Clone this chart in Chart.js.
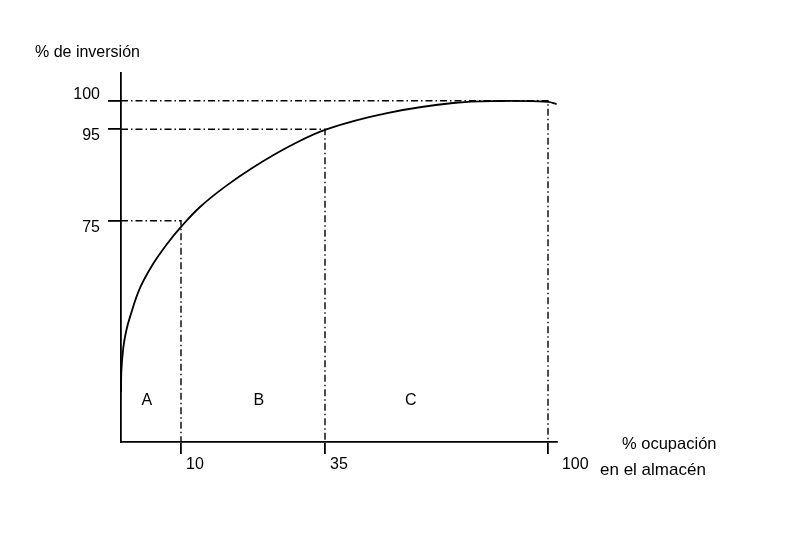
<!DOCTYPE html>
<html lang="es">
<head>
<meta charset="utf-8">
<title>Curva ABC</title>
<script src="https://cdn.jsdelivr.net/npm/chart.js@4.4.1/dist/chart.umd.min.js"></script>
<style>
  html, body { margin: 0; padding: 0; background: #fff; }
</style>
</head>
<body>
<canvas id="abcChart" width="800" height="536"></canvas>
<script>
// % ocupación en el almacén (x) vs % de inversión (y)
const curveX = [0, 0.05, 0.38, 0.83, 1.5, 3.17, 5.33, 7.67, 10, 13.3, 17.6, 22.3, 28.9, 35.6, 53.1, 72.3, 86, 100, 102.6];
const curveY = [16.9, 23.7, 31.9, 37.3, 42.4, 52.2, 60.3, 67.1, 72.9, 78, 82.4, 86.5, 91.35, 95.05, 97.85, 99.6, 99.95, 99.8, 99.4];

// zone cut points (dash-dot guides)
const cutX = [10, 35, 100];
const cutY = [75, 95, 100];

// tick labels
const xTicks = [10, 35, 100];
const yTicks = [75, 95, 100];

// zone letters
const zoneNames = ["A", "B", "C"];
const zoneX = [4.3, 23.5, 60];
const zoneY = 14;

const FONT = "'Liberation Sans', Arial, sans-serif";

// the drawing is schematic: axes are stretched piecewise between the marked values
// [value, fraction of axis length]
const scaleKnots = {
  x: [[0, 0], [10, 0.1376], [35, 0.4679], [100, 0.9794], [102.7, 1]],
  y: [[0, 0], [75, 0.5997], [95, 0.8474], [100, 0.9249], [104.85, 1]]
};

function knotMap(knots, from, to, v) {
  for (let i = 1; i < knots.length; i++) {
    const a = knots[i - 1], b = knots[i];
    if (v <= b[from] || i === knots.length - 1) {
      const t = (v - a[from]) / (b[from] - a[from]);
      return a[to] + t * (b[to] - a[to]);
    }
  }
}

class PiecewiseScale extends Chart.LinearScale {
  getPixelForValue(value) {
    if (value === null || value === undefined || isNaN(value)) return NaN;
    return this.getPixelForDecimal(knotMap(scaleKnots[this.id], 0, 1, value));
  }
  getValueForPixel(pixel) {
    return knotMap(scaleKnots[this.id], 1, 0, this.getDecimalForPixel(pixel));
  }
}
PiecewiseScale.id = "piecewise";
PiecewiseScale.defaults = Chart.LinearScale.defaults;
Chart.register(PiecewiseScale);

// free texts: axis captions and zone letters
const textPlugin = {
  id: "abcText",
  afterDraw(chart) {
    const { ctx, scales: { x, y } } = chart;
    ctx.save();
    ctx.fillStyle = "#000";
    ctx.font = "16px " + FONT;
    ctx.textAlign = "left";
    ctx.textBaseline = "alphabetic";
    ctx.fillText("% de inversión", 35, 57);
    ctx.font = "16.5px " + FONT;
    ctx.fillText("% ocupación", 622, 449);
    ctx.font = "17px " + FONT;
    ctx.fillText("en el almacén", 600, 475);

    ctx.font = "16px " + FONT;
    ctx.textAlign = "center";
    ctx.textBaseline = "middle";
    zoneNames.forEach((name, i) => {
      ctx.fillText(name, x.getPixelForValue(zoneX[i]), y.getPixelForValue(zoneY));
    });
    ctx.restore();
  }
};

const guideSets = cutX.map((cx, i) => ({
  data: [{ x: 0, y: cutY[i] }, { x: cx, y: cutY[i] }, { x: cx, y: 0 }],
  borderColor: "#000",
  borderWidth: 1.4,
  borderDash: [7, 3, 1.5, 3],
  tension: 0,
  pointRadius: 0,
  showLine: true
}));

const curveSet = {
  data: curveX.map((cx, i) => ({ x: cx, y: curveY[i] })),
  borderColor: "#000",
  borderWidth: 1.8,
  tension: 0.4,
  pointRadius: 0,
  showLine: true,
  clip: false
};

const axisGrid = (len) => ({
  display: true,
  drawOnChartArea: false,
  drawTicks: true,
  tickLength: len,
  color: "#000",
  lineWidth: 1.8
});

new Chart(document.getElementById("abcChart"), {
  type: "scatter",
  data: { datasets: [...guideSets, curveSet] },
  plugins: [textPlugin],
  options: {
    responsive: false,
    animation: false,
    layout: { autoPadding: false, padding: { left: 0, top: 73, right: 243, bottom: 0 } },
    plugins: { legend: { display: false }, tooltip: { enabled: false } },
    scales: {
      x: {
        type: "piecewise",
        min: 0,
        max: 102.7,
        afterBuildTicks: (s) => { s.ticks = xTicks.map(v => ({ value: v })); },
        afterFit: (s) => { s.height = 94; },
        border: { display: true, color: "#000", width: 1.8 },
        grid: axisGrid(12),
        ticks: {
          autoSkip: false,
          maxRotation: 0,
          align: "start",
          labelOffset: 5,
          padding: 1,
          color: "#000",
          font: { family: FONT, size: 16 },
          callback: (v) => (v === 100 ? "  100" : String(v))
        }
      },
      y: {
        type: "piecewise",
        min: 0,
        max: 104.85,
        afterBuildTicks: (s) => { s.ticks = yTicks.map(v => ({ value: v })); },
        afterFit: (s) => { s.width = 121; },
        border: { display: true, color: "#000", width: 1.8 },
        grid: axisGrid(13),
        ticks: {
          autoSkip: false,
          padding: 8,
          color: "#000",
          font: { family: FONT, size: 16, lineHeight: 0.8 },
          // 100 sits on its tick, the others hang below
          callback: (v) => (v === 100 ? ["100", ""] : ["", String(v)])
        }
      }
    }
  }
});
</script>
</body>
</html>
